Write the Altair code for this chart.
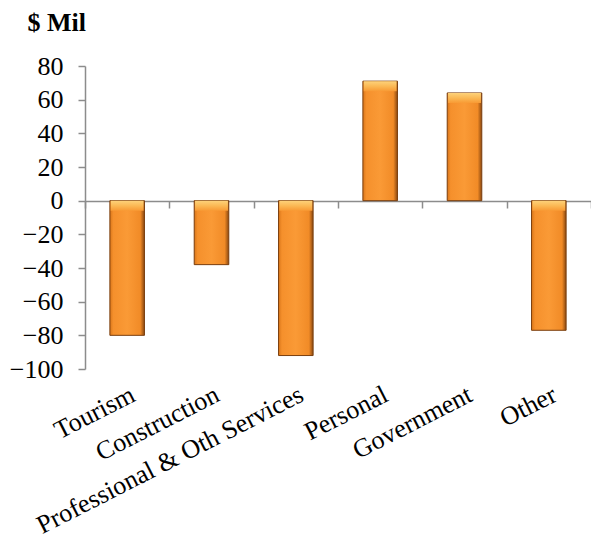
import altair as alt
import pandas as pd

categories = ["Tourism", "Construction", "Professional & Oth Services", "Personal", "Government", "Other"]
values = [-80, -38, -92, 71, 64, -77]
y_ticks = [-100, -80, -60, -40, -20, 0, 20, 40, 60, 80]

df = pd.DataFrame({"cat": categories, "val": values})

FONT = "'Liberation Serif', 'Times New Roman', serif"
GRAY = "#8c8c8c"

fill = alt.Gradient(
    gradient="linear",
    x1=0, x2=1, y1=0, y2=0,
    stops=[
        alt.GradientStop(color="#d9761a", offset=0),
        alt.GradientStop(color="#f5902c", offset=0.1),
        alt.GradientStop(color="#fa9a36", offset=0.5),
        alt.GradientStop(color="#f18b27", offset=0.88),
        alt.GradientStop(color="#8a4810", offset=1),
    ],
)

bevel = alt.Gradient(
    gradient="linear",
    x1=0, x2=0, y1=0, y2=1,
    stops=[
        alt.GradientStop(color="#fdd27a", offset=0),
        alt.GradientStop(color="#fbb955", offset=0.5),
        alt.GradientStop(color="#f89a34", offset=1),
    ],
)

base = alt.Chart(df)

xscale = alt.Scale(paddingInner=0, paddingOuter=0)
yscale = alt.Scale(domain=[-100, 80], nice=False, zero=True)

bars = base.mark_bar(
    fill=fill, stroke="#7a3e0e", strokeWidth=1, width=alt.RelativeBandSize(0.41)
).encode(
    x=alt.X("cat:N", sort=categories, scale=xscale, title=None,
            axis=alt.Axis(orient="bottom", offset=-168, labels=False, tickBand="extent",
                          domainColor=GRAY, domainWidth=1.5, tickColor=GRAY, tickWidth=1.5,
                          tickSize=7, grid=False)),
    y=alt.Y("val:Q", scale=yscale, title="$ Mil",
            axis=alt.Axis(values=y_ticks, grid=False, domainColor=GRAY, domainWidth=1.5,
                          tickColor=GRAY, tickWidth=1.5, tickSize=7, labelFont=FONT,
                          labelFontSize=26, labelColor="#000", labelPadding=15,
                          titleAngle=0, titleAlign="left", titleBaseline="alphabetic",
                          titleX=-58, titleY=-36, titleFont=FONT, titleFontSize=26,
                          titleFontWeight="bold", titleColor="#000")),
)

tops = base.transform_calculate(
    top="datum.val > 0 ? datum.val : 0",
    top2="(datum.val > 0 ? datum.val : 0) - 6",
).mark_bar(fill=bevel, width=alt.RelativeBandSize(0.39)).encode(
    x=alt.X("cat:N", sort=categories, scale=xscale, axis=None),
    y=alt.Y("top:Q", scale=yscale, axis=None),
    y2="top2:Q",
)

labels = base.mark_point(opacity=0).encode(
    x=alt.X("cat:N", sort=categories, scale=xscale, title=None,
            axis=alt.Axis(orient="bottom", domain=False, ticks=False, grid=False,
                          labelAngle=-27, labelAlign="right", labelBaseline="top",
                          labelFont=FONT, labelFontSize=26, labelColor="#000",
                          labelPadding=12, labelLimit=400)),
)

chart = alt.layer(bars, tops, labels).resolve_axis(x="independent", y="independent").properties(
    width=506, height=303,
    autosize=alt.AutoSizeParams(type="none"),
    padding={"left": 77, "top": 58, "right": 0, "bottom": 170},
).configure_view(stroke=None)

chart.save("out.html", embed_options={"renderer": "svg", "actions": False})
